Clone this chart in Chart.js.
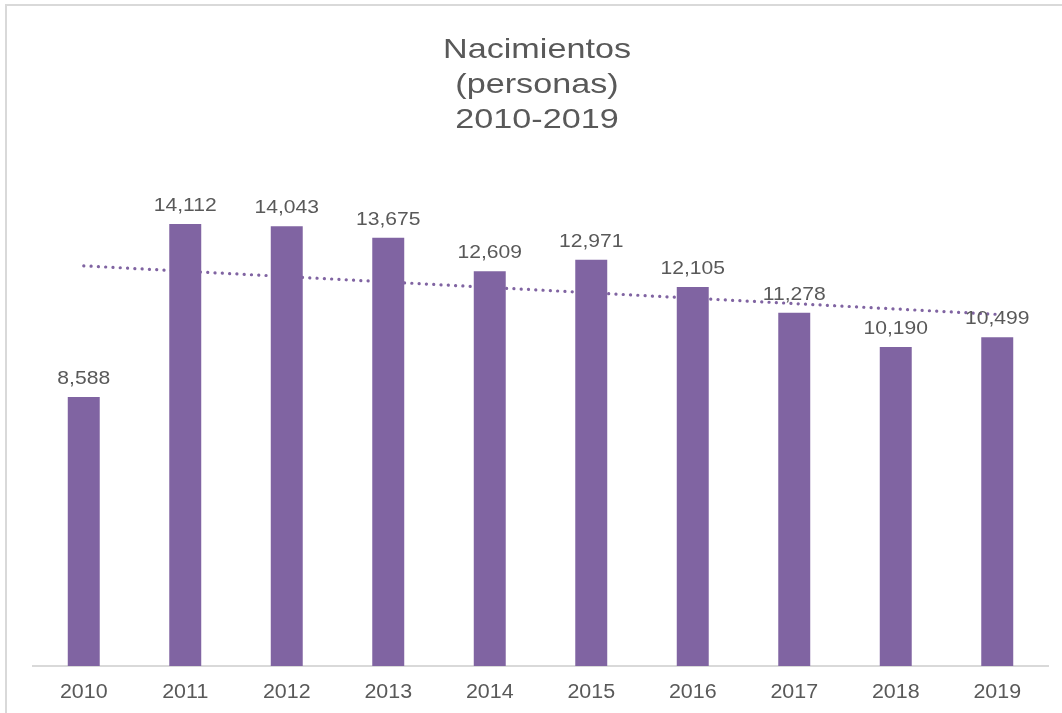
<!DOCTYPE html>
<html>
<head>
<meta charset="utf-8">
<script src="https://cdn.jsdelivr.net/npm/chart.js@4"></script>
<style>
  html, body { margin: 0; padding: 0; background: #fff; }
  #wrap { width: 1062px; height: 713px; }
</style>
</head>
<body>
<div id="wrap"><canvas id="cnv_births"></canvas></div>
<script>
// data
const years = ['2010', '2011', '2012', '2013', '2014', '2015', '2016', '2017', '2018', '2019'];
const births = [8588, 14112, 14043, 13675, 12609, 12971, 12105, 11278, 10190, 10499];
// dotted trend line: start and end values
const trend = [12780, null, null, null, null, null, null, null, null, 11230];
const titleLines = ['Nacimientos', '(personas)', '2010-2019'];

const purple = '#8064A2';
const textGray = '#595959';
const fontName = '"Liberation Sans", Arial, sans-serif';

// the reference text is a bit wider than plain Arial, so stretch it horizontally
const drawWide = (ctx, text, x, y, size, stretch) => {
	ctx.save();
	ctx.font = `${size}px ${fontName}`;
	ctx.fillStyle = textGray;
	ctx.textAlign = 'center';
	ctx.textBaseline = 'alphabetic';
	ctx.translate(x, y);
	ctx.scale(stretch, 1);
	ctx.fillText(text, 0, 0);
	ctx.restore();
}

const framePlugin = {
	id: 'frame',
	beforeDraw(chart) {
		const ctx = chart.ctx;
		ctx.save();
		ctx.fillStyle = '#ffffff';
		ctx.fillRect(0, 0, chart.width, chart.height);
		ctx.strokeStyle = '#d9d9d9';
		ctx.lineWidth = 2;
		ctx.strokeRect(6, 5, chart.width + 20, chart.height + 20);
		ctx.restore();
	}
}

const textPlugin = {
	id: 'texts',
	afterDraw(chart) {
		const ctx = chart.ctx;
		//Title
		titleLines.forEach((line, i) => drawWide(ctx, line, 537, 58 + i * 35, 28, 1.22));
		//Value labels over bars
		const meta = chart.getDatasetMeta(0);
		meta.data.forEach((bar, i) => {
			drawWide(ctx, births[i].toLocaleString('en-US'), bar.x, bar.y - 13, 18.5, 1.14);
		});
		//Year labels under the axis
		const xScale = chart.scales.x;
		years.forEach((year, i) => {
			drawWide(ctx, year, xScale.getPixelForValue(i), 698, 19.5, 1.1);
		});
	}
}

const ctx = document.getElementById('cnv_births').getContext('2d');
const birthsChart = new Chart(ctx, {
	type: 'bar',
	plugins: [framePlugin, textPlugin],
	data: {
		labels: years,
		datasets: [{
			type: 'bar',
			label: 'Nacimientos',
			data: births,
			backgroundColor: purple,
			borderWidth: 0,
			categoryPercentage: 1,
			barPercentage: 0.315,
			order: 1
		}, {
			type: 'line',
			label: 'Tendencia',
			data: trend,
			spanGaps: true,
			borderColor: purple,
			borderWidth: 3.2,
			borderCapStyle: 'round',
			borderDash: [0.1, 7.2],
			pointRadius: 0,
			fill: false,
			order: 2
		}]
	},
	options: {
		responsive: true,
		maintainAspectRatio: false,
		animation: false,
		layout: {
			padding: { left: 33, right: 14, top: 165, bottom: 47 }
		},
		plugins: {
			legend: { display: false },
			title: { display: false },
			tooltip: { enabled: false }
		},
		scales: {
			x: {
				grid: { display: false, drawTicks: false },
				border: { display: true, color: '#d9d9d9', width: 2 },
				ticks: { display: false }
			},
			y: {
				display: false,
				min: 0,
				max: 16000
			}
		}
	}
});
</script>
</body>
</html>
